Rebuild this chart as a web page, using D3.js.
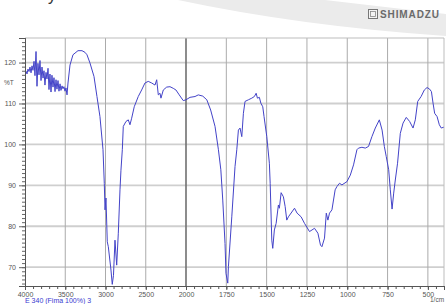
<!DOCTYPE html>
<html><head><meta charset="utf-8">
<script src="https://cdn.jsdelivr.net/npm/d3@7/dist/d3.min.js"></script>
<style>body{margin:0;background:#fff;}svg{display:block;}</style>
</head><body>
<svg id="c" width="446" height="304"></svg>
<script>
// wavenumbers (1/cm) and transmittance (%T)
const wavenumber = [4000,3988,3975,3963,3950,3938,3925,3913,3901,3888,3876,3863,3851,3839,3826,3814,3801,3789,3776,3764,3752,3739,3727,3714,3702,3690,3677,3665,3652,3640,3627,3615,3603,3590,3578,3565,3553,3540,3528,3516,3503,3491,3478,3466,
3441,3404,3342,3292,3255,3230,3193,3143,3106,3069,3031,3015,3006,2994,2978,2965,2932,2916,2901,2882,2861,2841,2820,2808,2791,2779,2746,2717,2696,2675,2643,2593,2551,2510,2469,2426,2385,2364,2344,2323,2311,2282,2240,2199,2158,2125,2084,2034,2000,
1975,1944,1924,1896,1871,1847,1820,1799,1784,1772,1758,1752,1741,1737,1716,1696,1685,1675,1665,1654,1644,1634,1613,1592,1576,1565,1557,1545,1536,1524,1516,1499,1483,1478,1468,1462,1452,1441,1427,1421,1410,1396,1385,1375,1365,1327,1311,1286,1265,1234,1203,1182,1166,1157,1141,1130,1120,1110,1095,1075,1064,1048,1033,1002,981,961,940,930,909,888,868,847,826,801,784,770,758,743,733,722,712,702,688,671,654,634,613,592,578,563,542,522,505,489,478,468,458,443,429,417,402];
const transmittance = [117.6,117.9,117.2,118.4,117.8,118.9,117.5,119.2,118.1,120.3,116.8,122.7,114.2,119.8,117.0,120.5,115.6,118.9,116.2,118.0,114.5,117.6,116.0,118.6,113.4,117.2,112.8,116.9,114.0,116.3,112.9,115.8,113.5,115.6,113.0,114.8,113.2,114.3,113.6,114.1,113.0,113.8,112.1,115.0,
119.4,121.9,122.9,122.9,122.5,121.9,119.9,116.6,111.7,106.8,98.7,90.5,84.0,86.9,76.2,75.0,69.3,65.8,68.0,76.6,70.5,78.3,88.9,93.7,98.7,104.4,105.6,106.0,104.8,106.4,109.2,111.7,113.3,115.0,115.4,115.0,114.5,115.8,112.1,112.5,111.3,113.3,114.0,114.1,113.7,113.3,112.1,110.7,110.9,
111.5,111.7,112.1,111.8,110.9,108.4,104.4,98.7,93.8,86.4,75.8,68.5,66.1,70.1,82.3,94.6,98.7,103.5,104.0,101.9,107.6,110.5,110.9,111.3,111.7,112.5,111.3,111.5,110.1,109.2,106.8,101.9,95.4,90.5,76.6,74.6,79.1,80.7,85.2,84.4,88.2,87.2,84.8,81.5,82.3,84.4,83.2,82.3,80.7,78.7,79.5,78.3,75.4,75.0,77.1,83.2,81.5,83.2,84.0,88.9,89.7,90.5,90.1,90.9,92.5,95.0,98.7,99.1,99.3,99.1,99.5,101.9,104.0,106.0,103.5,99.5,97.0,93.8,88.9,84.2,88.1,91.3,95.4,102.7,105.2,106.6,105.6,104.0,106.0,110.5,111.7,113.3,113.9,113.5,112.9,110.1,107.6,106.8,104.8,104.0,104.2];
const xTicks = [4000,3500,3000,2500,2000,1750,1500,1250,1000,750,500];
const yTicks = [70,80,90,100,110,120];

const svg = d3.select("#c");
const L = 25, R = 444, T = 38, B = 286;
const x = d3.scaleLinear().domain([4000, 2000, 400]).range([L, 186, R]);
const y = d3.scaleLinear().domain([65.4, 126]).range([B, T]);
const font = "Liberation Sans, Arial, sans-serif";

// background swoosh
svg.append("path")
  .attr("d", "M178,0 Q300,26 446,36 L446,14 Q385,7 325,0 Z")
  .attr("fill", "#ebebeb");
// partial title glyph (cut by top edge, as in the reference)
svg.append("text").attr("x", 48).attr("y", 1).attr("font-family", font)
  .attr("font-size", 16).attr("fill", "#333").text("y");

// logo
const lg = svg.append("g");
lg.append("rect").attr("x", 368.5).attr("y", 9.5).attr("width", 9).attr("height", 9)
  .attr("fill", "#f4f4f4").attr("stroke", "#777").attr("stroke-width", 1);
lg.append("rect").attr("x", 370.5).attr("y", 11.5).attr("width", 5).attr("height", 5)
  .attr("fill", "none").attr("stroke", "#888").attr("stroke-width", 0.8);
lg.append("text").attr("x", 380).attr("y", 18).attr("font-family", font)
  .attr("font-size", 10).attr("font-weight", "bold").attr("fill", "#6a6a6a")
  .attr("letter-spacing", 0.9).text("SHIMADZU");

// horizontal grid
svg.append("g").selectAll("line").data(yTicks).join("line")
  .attr("x1", L).attr("x2", R).attr("y1", d => y(d)).attr("y2", d => y(d))
  .attr("stroke", "#cfcfcf").attr("stroke-width", 1.8);
// vertical grid
svg.append("g").selectAll("line").data(xTicks.filter(d => d !== 4000)).join("line")
  .attr("x1", d => x(d)).attr("x2", d => x(d)).attr("y1", T).attr("y2", B)
  .attr("stroke", d => d === 2000 ? "#707070" : "#ababab")
  .attr("stroke-width", d => d === 2000 ? 1.6 : 1);
// frame top/right
svg.append("line").attr("x1", L).attr("x2", R).attr("y1", T).attr("y2", T)
  .attr("stroke", "#bdbdbd").attr("stroke-width", 1.2);
svg.append("line").attr("x1", R).attr("x2", R).attr("y1", T).attr("y2", B)
  .attr("stroke", "#bdbdbd").attr("stroke-width", 1);

// spectrum
svg.append("clipPath").attr("id", "clip").append("rect")
  .attr("x", L).attr("y", T).attr("width", R - L).attr("height", B - T);
const pts = wavenumber.map((w, i) => [w, transmittance[i]]);
svg.append("path").datum(pts).attr("clip-path", "url(#clip)")
  .attr("fill", "none").attr("stroke", "#4343c8").attr("stroke-width", 1)
  .attr("stroke-linejoin", "round")
  .attr("d", d3.line().x(d => x(d[0])).y(d => y(d[1])));

// axes
const xMinor = d3.range(4000, 2000, -100).concat(d3.range(2000, 399, -50));
const yMinor = d3.range(66, 126, 1);
const gx = svg.append("g").attr("transform", `translate(0,${B})`);
gx.call(d3.axisBottom(x).tickValues(xMinor).tickSize(3).tickFormat(""));
gx.call(g => g.append("g").call(d3.axisBottom(x).tickValues(xTicks).tickSize(4).tickFormat(d3.format("d"))));
gx.selectAll(".domain").attr("stroke", "#555");
gx.selectAll("line").attr("stroke", "#555");
gx.selectAll("text").attr("font-family", font).attr("font-size", 7).attr("fill", "#555").attr("dy", "0.5em");

const gy = svg.append("g").attr("transform", `translate(${L},0)`);
gy.call(d3.axisLeft(y).tickValues(yMinor).tickSize(3).tickFormat(""));
gy.call(g => g.append("g").call(d3.axisLeft(y).tickValues(yTicks).tickSize(6).tickFormat(d3.format("d"))));
gy.selectAll(".domain").attr("stroke", "#555");
gy.selectAll("line").attr("stroke", "#666");
gy.selectAll("text").attr("font-family", font).attr("font-size", 7).attr("fill", "#555");

svg.append("text").attr("x", 4).attr("y", 85).attr("font-family", font)
  .attr("font-size", 6.5).attr("fill", "#555").text("%T");
svg.append("text").attr("x", 430).attr("y", 302).attr("font-family", font)
  .attr("font-size", 6.5).attr("fill", "#555").text("1/cm");
svg.append("text").attr("x", 25).attr("y", 303).attr("font-family", font)
  .attr("font-size", 7).attr("fill", "#3a3ad0").text("E 340 (Fima 100%) 3");
</script>
</body></html>
